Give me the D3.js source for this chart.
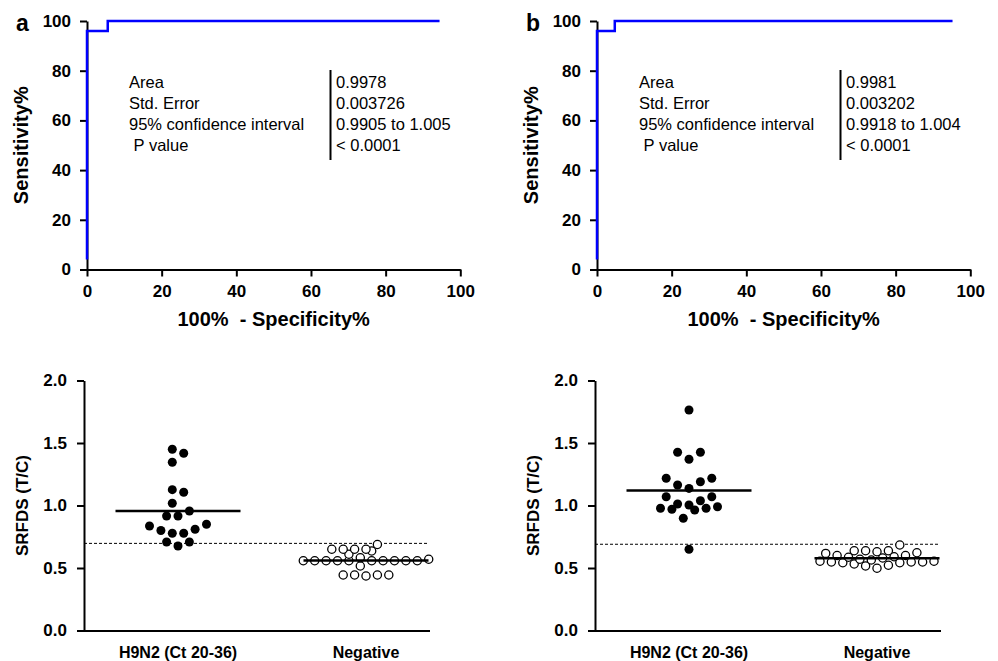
<!DOCTYPE html>
<html><head><meta charset="utf-8">
<script src="https://cdn.jsdelivr.net/npm/d3@7/dist/d3.min.js"></script>
<style>html,body{margin:0;padding:0;background:#fff;} svg{display:block;}</style>
</head><body>
<script>
// ---------- data ----------
const rocTicks = [0, 20, 40, 60, 80, 100];
const rocA_fpr = [0, 0, 5.556, 5.556, 94.44];
const rocA_tpr = [4, 96, 96, 100, 100];
const rocB_fpr = [0, 0, 4.762, 4.762, 95.24];
const rocB_tpr = [4, 96, 96, 100, 100];
const statNames = ["Area", "Std. Error", "95% confidence interval", " P value"];
const statsA = ["0.9978", "0.003726", "0.9905 to 1.005", "< 0.0001"];
const statsB = ["0.9981", "0.003202", "0.9918 to 1.004", "< 0.0001"];
const categories = ["H9N2 (Ct 20-36)", "Negative"];
const srfdsTicks = [0, 0.5, 1.0, 1.5, 2.0];
const h9n2C = [1.45, 1.418, 1.346, 1.127, 1.106, 1.018, 0.956, 0.916, 0.916, 0.85, 0.836, 0.81, 0.80, 0.778, 0.778, 0.708, 0.708, 0.676];
const negC = [0.688, 0.65, 0.65, 0.636, 0.65, 0.65, 0.61, 0.582, 0.57, 0.558, 0.558, 0.558, 0.558, 0.558, 0.558, 0.558, 0.558, 0.558, 0.558, 0.516, 0.444, 0.444, 0.436, 0.444, 0.444];
const h9n2D = [1.764, 1.426, 1.426, 1.37, 1.218, 1.164, 1.137, 1.19, 1.218, 1.07, 1.012, 0.97, 0.99, 1.004, 0.964, 1.038, 0.978, 1.07, 0.978, 0.898, 0.65];
const negD = [0.684, 0.638, 0.638, 0.617, 0.60, 0.60, 0.622, 0.63, 0.638, 0.586, 0.57, 0.564, 0.58, 0.59, 0.554, 0.548, 0.548, 0.542, 0.516, 0.498, 0.522, 0.532, 0.542, 0.548, 0.554];
const cutoffC = 0.697, cutoffD = 0.69;

// ---------- drawing ----------
const FONT = '"Liberation Sans", Arial, Helvetica, sans-serif';
const svg = d3.select("body").append("svg").attr("width", 998).attr("height", 661)
  .style("font-family", FONT);

function styleAxis(g) {
  g.select(".domain").attr("stroke", "#000").attr("stroke-width", 2);
  g.selectAll(".tick line").attr("stroke", "#000").attr("stroke-width", 2);
  g.selectAll(".tick text").attr("fill", "#000").style("font-family", FONT)
    .style("font-weight", "bold").style("font-size", "17px");
}

function rocPanel(ox, letter, fpr, tpr, stats) {
  const x = d3.scaleLinear().domain([0, 100]).range([ox, ox + 373.3]);
  const y = d3.scaleLinear().domain([0, 100]).range([269.5, 21]);
  svg.append("g").attr("transform", `translate(0,${y(0)})`)
    .call(d3.axisBottom(x).tickValues(rocTicks).tickSize(7).tickSizeOuter(0).tickPadding(8).tickFormat(d3.format("d")))
    .call(styleAxis);
  svg.append("g").attr("transform", `translate(${x(0)},0)`)
    .call(d3.axisLeft(y).tickValues(rocTicks).tickSize(7).tickSizeOuter(0).tickPadding(9).tickFormat(d3.format("d")))
    .call(styleAxis);
  const line = d3.line().x(d => x(d[0])).y(d => y(d[1]));
  svg.append("path").datum(d3.zip(fpr, tpr)).attr("d", line)
    .attr("fill", "none").attr("stroke", "#0000ff").attr("stroke-width", 2.5);
  // labels
  svg.append("text").attr("x", ox - 71).attr("y", 31).text(letter)
    .style("font-weight", "bold").style("font-size", "23px");
  svg.append("text").attr("transform", `translate(${ox - 59.5},${(y(0) + y(100)) / 2}) rotate(-90)`)
    .attr("text-anchor", "middle").text("Sensitivity%")
    .style("font-weight", "bold").style("font-size", "20px");
  svg.append("text").attr("x", (x(0) + x(100)) / 2).attr("y", 326).attr("text-anchor", "middle")
    .attr("xml:space", "preserve").text("100%  - Specificity%")
    .style("font-weight", "bold").style("font-size", "20px").style("white-space", "pre");
  // stats box
  const rowY = d3.scalePoint().domain(d3.range(statNames.length)).range([87.5, 150.5]);
  svg.append("g").selectAll("text").data(statNames).join("text")
    .attr("x", ox + 42).attr("y", (d, i) => rowY(i)).text(d => d)
    .style("font-size", "16.5px").style("white-space", "pre");
  svg.append("g").selectAll("text").data(stats).join("text")
    .attr("x", ox + 249).attr("y", (d, i) => rowY(i)).text(d => d)
    .style("font-size", "16.5px");
  svg.append("line").attr("x1", ox + 243.5).attr("x2", ox + 243.5).attr("y1", 70).attr("y2", 160)
    .attr("stroke", "#000").attr("stroke-width", 2);
}

// Prism-like column scatter: values grouped into rows; inside a row the lowest
// value sits in the middle and the others fan out left/right; rows shifted to limit overlap
function swarm(vals, cx, y, h, step, r) {
  const s = vals.slice().sort((a, b) => a - b);
  const rows = []; let cur = null;
  s.forEach(v => { if (!cur || v - cur[0] >= h) { cur = [v]; rows.push(cur); } else cur.push(v); });
  const placed = [];
  rows.forEach(row => {
    const n = row.length;
    const offs = d3.range(n).map(k => k - (n - 1) / 2)
      .sort((a, b) => Math.abs(a) - Math.abs(b) || a - b);
    let best = null, bestCost = Infinity;
    [0, 0.5, -0.5, 1, -1].forEach(sh => {
      const pts = row.map((v, k) => ({ v, x: cx + (offs[k] + sh) * step, y: y(v) }));
      let cost = Math.abs(sh) * 0.01;
      pts.forEach(p => placed.forEach(q => {
        const d = Math.hypot(p.x - q.x, p.y - q.y);
        if (d < 2 * r) cost += 2 * r - d;
      }));
      if (cost < bestCost) { bestCost = cost; best = pts; }
    });
    placed.push(...best);
  });
  return placed;
}

function dotPanel(ox, pos, neg, cutoff) {
  const y = d3.scaleLinear().domain([0, 2]).range([630.5, 380.5]);
  const x = d3.scaleBand().domain(categories).range([ox, ox + 376]);
  const cx = c => x(c) + x.bandwidth() / 2;
  const ax = svg.append("g").attr("transform", `translate(0,${y(0)})`)
    .call(d3.axisBottom(x).tickSize(0).tickPadding(16))
    .call(styleAxis);
  ax.selectAll(".tick text").style("font-size", "16px");
  ax.select(".domain").attr("d", `M${ox},0.5H${ox + 346}`);
  svg.append("g").attr("transform", `translate(${ox},0)`)
    .call(d3.axisLeft(y).tickValues(srfdsTicks).tickSize(7).tickSizeOuter(0).tickPadding(10).tickFormat(d3.format(".1f")))
    .call(styleAxis);
  svg.append("text").attr("transform", `translate(${ox - 56},${(y(0) + y(2)) / 2}) rotate(-90)`)
    .attr("text-anchor", "middle").text("SRFDS (T/C)")
    .style("font-weight", "bold").style("font-size", "17px");
  // cutoff
  svg.append("line").attr("x1", ox).attr("x2", ox + 344).attr("y1", y(cutoff)).attr("y2", y(cutoff))
    .attr("stroke", "#000").attr("stroke-width", 1).attr("stroke-dasharray", "3,2");
  const step = 11.4;
  const groups = [
    { vals: pos, cat: categories[0], filled: true, h: 0.1 },
    { vals: neg, cat: categories[1], filled: false, h: 0.06 }
  ];
  groups.forEach(gp => {
    const r = gp.filled ? 4.5 : 4.1;
    const pts = swarm(gp.vals, cx(gp.cat), y, gp.h, step, r);
    svg.append("g").selectAll("circle").data(pts).join("circle")
      .attr("cx", d => d.x).attr("cy", d => d.y).attr("r", r)
      .attr("fill", gp.filled ? "#000" : "#fff").attr("stroke", "#000")
      .attr("stroke-width", gp.filled ? 0 : 1.3);
    const m = d3.mean(gp.vals);
    svg.append("line").attr("x1", cx(gp.cat) - 62.5).attr("x2", cx(gp.cat) + 62.5)
      .attr("y1", y(m)).attr("y2", y(m)).attr("stroke", "#000").attr("stroke-width", 2.5);
  });
}

rocPanel(87, "a", rocA_fpr, rocA_tpr, statsA);
rocPanel(597, "b", rocB_fpr, rocB_tpr, statsB);
dotPanel(84, h9n2C, negC, cutoffC);
dotPanel(595, h9n2D, negD, cutoffD);
</script>
</body></html>
